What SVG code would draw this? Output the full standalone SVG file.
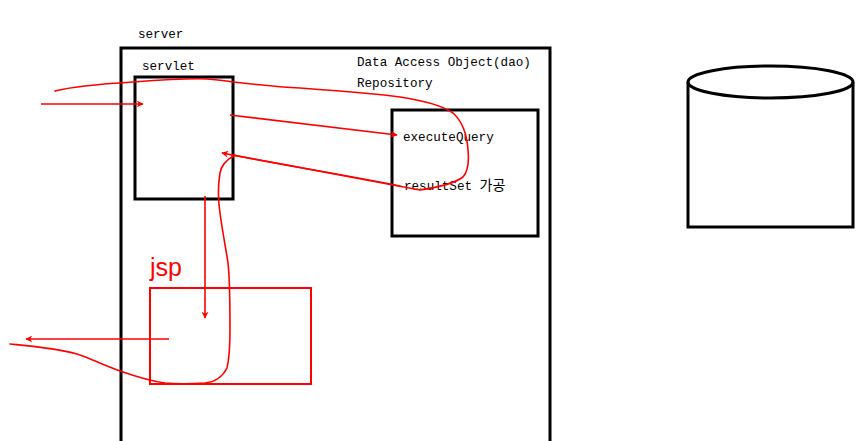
<svg xmlns="http://www.w3.org/2000/svg" width="856" height="441" viewBox="0 0 856 441">
<style>
.box{fill:none;stroke:#000;stroke-width:3}
.t{font-family:"Liberation Mono","Noto Sans CJK KR",monospace;font-size:12.6px;fill:#000}
.k{font-family:"Noto Sans CJK KR",sans-serif;font-size:14px}
.r{fill:none;stroke:#f00;stroke-width:1.6;stroke-linecap:round;stroke-linejoin:round}
.ra{fill:none;stroke:#f00;stroke-width:1.6;marker-end:url(#ah)}
</style>
<defs>
<marker id="ah" viewBox="0 0 10 10" refX="9" refY="5" markerWidth="7" markerHeight="7" markerUnits="userSpaceOnUse" orient="auto">
<path d="M0,0 L10,5 L0,10 L3,5 Z" fill="#f00"/>
</marker>
</defs>
<rect width="856" height="441" fill="#fff"/>
<g id="server">
<path class="box" d="M121,443 V48 H550 V443"/>
<text class="t" x="138" y="38">server</text>
</g>
<g id="servlet">
<rect class="box" x="135" y="77" width="98" height="122"/>
<text class="t" x="142" y="70">servlet</text>
</g>
<g id="dao">
<text class="t" x="357" y="66">Data Access Object(dao)</text>
<text class="t" x="357" y="87">Repository</text>
<rect class="box" x="392" y="110" width="146" height="126"/>
<text class="t" x="403" y="141">executeQuery</text>
<text class="t" x="404" y="190">resultSet <tspan class="k">가공</tspan></text>
</g>
<g id="database">
<path class="box" d="M688,82 V227 H853 V82"/>
<ellipse class="box" cx="770.5" cy="82" rx="82.5" ry="16"/>
</g>
<g id="jsp">
<rect x="150" y="288" width="161" height="96" fill="none" stroke="#f00" stroke-width="2"/>
<text x="150" y="276" font-family="Liberation Sans,Arial,sans-serif" font-size="25" fill="#f00">jsp</text>
</g>
<g id="connectors">
<path class="ra" d="M41,104 H143"/>
<path class="r" d="M55,91 C70,87 100,84 133,82 C160,80 190,78 207,79 C220,80 228,81 233,82 C260,85 280,87 300,88 C340,91 380,94 400,97 C420,100 440,104 453,113 C462,121 467,135 468,150 C469,160 469,170 463,177 C455,183 440,187 420,190"/>
<path class="ra" d="M420,190 C380,183 300,168 222,153"/>
<path class="r" d="M400,186 C350,176 290,166 232,155"/>
<path class="ra" d="M230,115 L397,135"/>
<path class="r" d="M235,155 C226,160 221,166 220,173 C218,185 218,200 220,213 C223,235 227,255 228,263 C230,280 230,300 230,330 C230,345 230,355 227,368 C222,378 215,382 205,383 C190,384 175,384 165,383 C150,381 140,378 120,371 C100,364 90,358 77,354 C55,348 30,346 10,344"/>
<path class="ra" d="M205,196 V318"/>
<path class="ra" d="M169,339 H26"/>
</g>
</svg>
